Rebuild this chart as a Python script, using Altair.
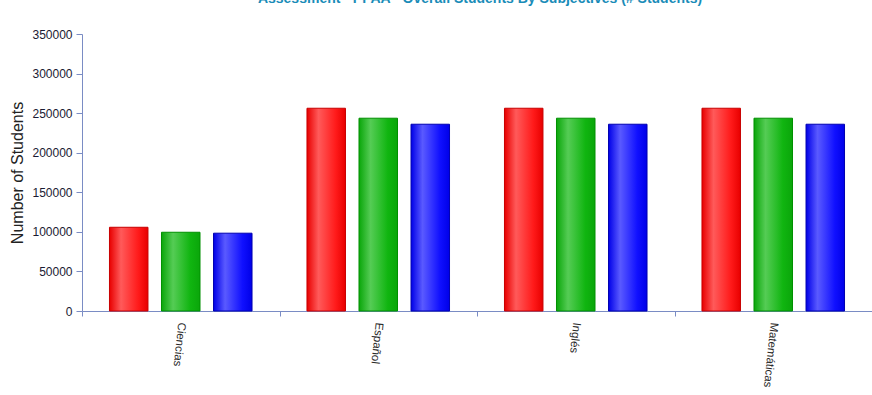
import altair as alt
import pandas as pd

subjects = ["Ciencias", "Español", "Inglés", "Matemáticas"]
series = ["Serie 1", "Serie 2", "Serie 3"]
values_s1 = [105800, 256200, 256200, 256200]
values_s2 = [99500, 243600, 243600, 243600]
values_s3 = [98300, 236000, 236000, 236000]
y_ticks = [0, 50000, 100000, 150000, 200000, 250000, 300000, 350000]
title_text = "Assessment - PPAA - Overall Students By Subjectives (# Students)"

rows = []
for s, vals in zip(series, [values_s1, values_s2, values_s3]):
    for subj, v in zip(subjects, vals):
        rows.append({"subject": subj, "series": s, "students": v})
df = pd.DataFrame(rows)

def grad(dark, light, mid):
    return alt.LinearGradient(
        gradient="linear", x1=0, x2=1, y1=0, y2=0,
        stops=[
            alt.GradientStop(color=dark, offset=0),
            alt.GradientStop(color=light, offset=0.3),
            alt.GradientStop(color=mid, offset=0.75),
            alt.GradientStop(color=dark, offset=1),
        ],
    )

fills = [
    (grad("#e80000", "#ff5a5a", "#ff1a1a"), "#c80000"),
    (grad("#0aa60a", "#55cc55", "#10b510"), "#009000"),
    (grad("#0000e8", "#5a5aff", "#1010ff"), "#0000b0"),
]

axis_col = "#7a8cc4"

x_enc = alt.X(
    "subject:N", sort=subjects,
    scale=alt.Scale(paddingInner=0, paddingOuter=0),
    axis=alt.Axis(
        title=None, labelAngle=96, labelAlign="left", labelBaseline="middle",
        labelFont="Liberation Sans", labelFontSize=11.5, labelColor="#2a2a2a",
        labelPadding=6, tickBand="extent", tickSize=5, tickColor=axis_col,
        domainColor=axis_col, labelOverlap=False, grid=False,
    ),
)
y_enc = alt.Y(
    "students:Q",
    scale=alt.Scale(domain=[0, 350000], nice=False),
    axis=alt.Axis(
        title="Number of Students", titleFont="Liberation Sans", titleFontSize=16,
        titleFontWeight="normal", titleColor="#222222", titlePadding=6,
        values=y_ticks, format="d", labelFont="Liberation Sans", labelFontSize=12,
        labelColor="#1a1a33", tickSize=6, tickColor=axis_col, domainColor=axis_col,
        grid=False, labelPadding=4,
    ),
)
xoff = alt.XOffset(
    "series:N", sort=series,
    scale=alt.Scale(domain=series, paddingInner=0.26, paddingOuter=0.528),
)

layers = []
for s, (f, st) in zip(series, fills):
    layers.append(
        alt.Chart(df).transform_filter(alt.datum.series == s)
        .mark_bar(fill=f, stroke=st, strokeWidth=1)
        .encode(x=x_enc, y=y_enc, xOffset=xoff)
    )

title_df = pd.DataFrame({"t": [title_text]})
title_layer = alt.Chart(title_df).mark_text(
    font="Liberation Sans", fontSize=14, fontWeight="bold", color="#1a8cb8",
    align="center", baseline="alphabetic",
).encode(text="t:N", x=alt.value(398), y=alt.value(-31))

chart = alt.layer(*layers, title_layer).properties(
    width=790, height=277,
    background="white",
    autosize=alt.AutoSizeParams(type="none"),
    padding={"left": 82, "top": 34, "right": 0, "bottom": 84},
).configure_view(strokeWidth=0, stroke="transparent")

chart.save("out.html", embed_options={"renderer": "svg", "actions": False})
